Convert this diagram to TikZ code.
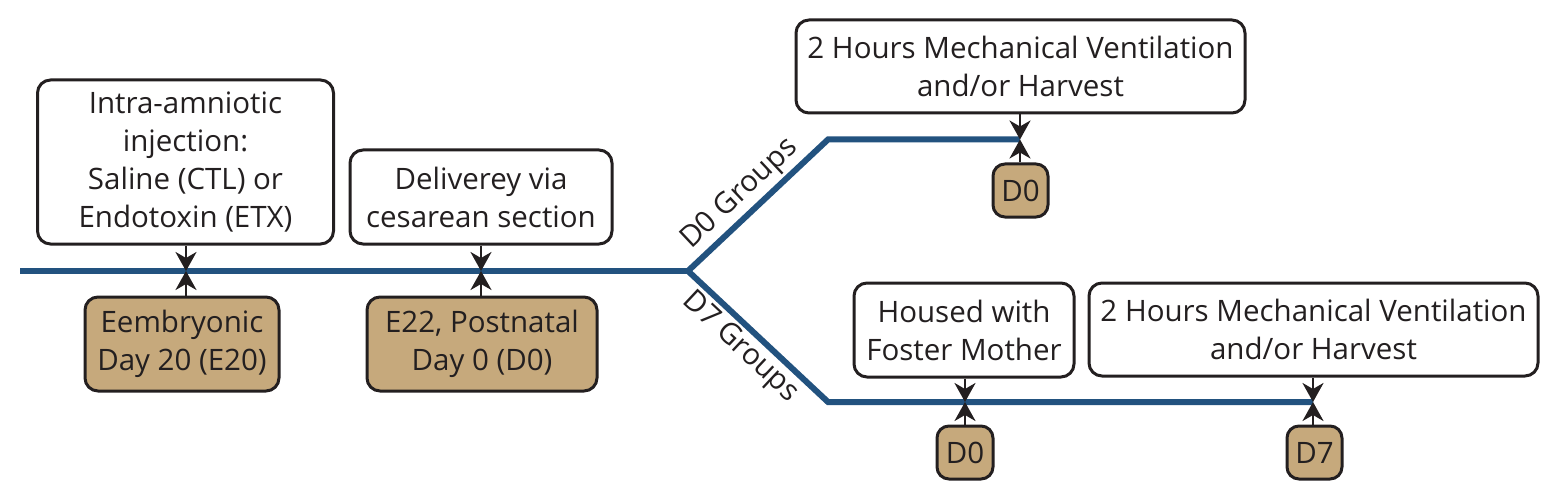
\documentclass[tikz,border=0pt]{standalone}
\usepackage{fontspec}
\setmainfont{Open Sans}
\usetikzlibrary{arrows.meta}
\definecolor{tanfill}{HTML}{C6A97C}
\definecolor{lineblue}{HTML}{22527F}
\definecolor{ink}{HTML}{231F20}
\begin{document}
\begin{tikzpicture}[x=1pt,y=-1pt,
  every node/.style={font=\fontsize{29.5}{38}\selectfont, text=ink},
  box/.style={draw=ink, line width=3pt, rounded corners=13pt, fill=white, align=center, inner sep=0pt},
  tanbox/.style={box, fill=tanfill},
  tl/.style={draw=lineblue, line width=6pt},
  arr/.style={draw=ink, line width=2.8pt, arrows={-Stealth[length=19pt,width=21pt,inset=6pt]}},
  grp/.style={font=\fontsize{29.5}{30}\selectfont, inner sep=3pt}]
\useasboundingbox (0,0) rectangle (1559,500);
% timeline points
\coordinate (start) at (20,271);
\coordinate (split) at (688,271);
\coordinate (t1) at (186,271);
\coordinate (t2) at (481,271);
\coordinate (upk) at (828,139.5);
\coordinate (t3) at (1020,139.5);
\coordinate (lok) at (828,402);
\coordinate (t4) at (965,402);
\coordinate (t5) at (1313,402);
% timeline
\draw[tl] (start) -- (split);
\draw[tl, line join=miter] (split) -- node[grp, sloped, above, pos=0.47] {D0 Groups} (upk) -- (t3);
\draw[tl, line join=miter] (split) -- node[grp, sloped, below, pos=0.47] {D7 Groups} (lok) -- (t5);
% boxes
\node[box, minimum width=296pt, minimum height=164pt] (b1) at (185.5,162)
  {Intra-amniotic\\injection:\\Saline (CTL) or\\Endotoxin (ETX)};
\node[tanbox, minimum width=194pt, minimum height=94pt] (e20) at (182,344)
  {Eembryonic\\Day 20 (E20)};
\node[box, minimum width=262pt, minimum height=94pt] (del) at (481,197)
  {Deliverey via\\cesarean section};
\node[tanbox, minimum width=230pt, minimum height=94pt] (e22) at (482,344)
  {E22, Postnatal\\Day 0 (D0)};
\node[box, minimum width=449pt, minimum height=93pt] (mv1) at (1020.5,66.5)
  {2 Hours Mechanical Ventilation\\and/or Harvest};
\node[tanbox, minimum width=55pt, minimum height=53pt, rounded corners=12pt] (d0a) at (1020.5,190.5) {D0};
\node[box, minimum width=220pt, minimum height=94pt] (hou) at (964,330)
  {Housed with\\Foster Mother};
\node[box, minimum width=449pt, minimum height=93pt] (mv2) at (1313.5,329.5)
  {2 Hours Mechanical Ventilation\\and/or Harvest};
\node[tanbox, minimum width=56pt, minimum height=53pt, rounded corners=12pt] (d0b) at (965,452.5) {D0};
\node[tanbox, minimum width=55pt, minimum height=53pt, rounded corners=12pt] (d7) at (1314.5,452.5) {D7};
% arrows
\draw[arr] (b1.south -| t1) -- (t1);
\draw[arr] (e20.north -| t1) -- (t1);
\draw[arr] (del.south -| t2) -- (t2);
\draw[arr] (e22.north -| t2) -- (t2);
\draw[arr] (mv1.south -| t3) -- (t3);
\draw[arr] (d0a.north -| t3) -- (t3);
\draw[arr] (hou.south -| t4) -- (t4);
\draw[arr] (d0b.north -| t4) -- (t4);
\draw[arr] (mv2.south -| t5) -- (t5);
\draw[arr] (d7.north -| t5) -- (t5);
\end{tikzpicture}
\end{document}
